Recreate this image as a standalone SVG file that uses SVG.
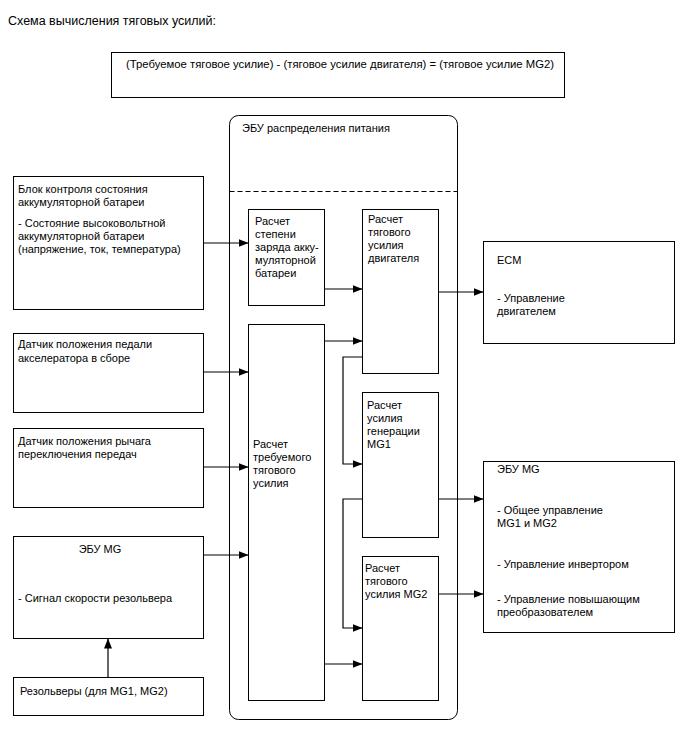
<svg xmlns="http://www.w3.org/2000/svg" width="688" height="755" viewBox="0 0 688 755">
<defs>
<marker id="ah" viewBox="0 0 10 8" refX="10" refY="4" markerWidth="10" markerHeight="8" markerUnits="userSpaceOnUse" orient="auto">
<path d="M0,0 L10,4 L0,8 Z" fill="#000"/>
</marker>
<style>
text{font-family:"Liberation Sans",Arial,sans-serif;font-size:11px;fill:#000}
.box{fill:#fff;stroke:#000;stroke-width:1}
.c{fill:none;stroke:#000;stroke-width:1.2}
.a{fill:none;stroke:#000;stroke-width:1.2;marker-end:url(#ah)}
</style>
</defs>
<rect width="688" height="755" fill="#fff"/>
<text x="8" y="25" style="font-size:12.5px">Схема вычисления тяговых усилий:</text>
<g id="formula">
<rect class="box" x="111.500" y="52.500" width="453" height="45"/>
<text x="126" y="68" style="font-size:11.3px">(Требуемое тяговое усилие) - (тяговое усилие двигателя) = (тяговое усилие MG2)</text>
</g>
<g id="ecu-power">
<rect class="box" x="229.500" y="115.500" width="228" height="604" rx="9"/>
<text x="242" y="132">ЭБУ распределения питания</text>
<line x1="229.500" y1="191.500" x2="457.500" y2="191.500" stroke="#000" stroke-dasharray="5,3"/>
</g>
<g id="battery-monitor">
<rect class="box" x="13.500" y="176.500" width="190" height="133"/>
<text x="18" y="193">Блок контроля состояния</text>
<text x="18" y="206">аккумуляторной батареи</text>
<text x="18" y="227">- Состояние высоковольтной</text>
<text x="18" y="240">аккумуляторной батареи</text>
<text x="18" y="253">(напряжение, ток, температура)</text>
</g>
<g id="pedal">
<rect class="box" x="13.500" y="333.500" width="190" height="79"/>
<text x="18" y="348">Датчик положения педали</text>
<text x="18" y="362">акселератора в сборе</text>
</g>
<g id="shift">
<rect class="box" x="13.500" y="428.500" width="190" height="79"/>
<text x="18" y="445">Датчик положения рычага</text>
<text x="18" y="458">переключения передач</text>
</g>
<g id="mg-ecu-left">
<rect class="box" x="13.500" y="536.500" width="190" height="102"/>
<text x="100" y="553" text-anchor="middle">ЭБУ MG</text>
<text x="18" y="602">- Сигнал скорости резольвера</text>
</g>
<g id="resolvers">
<rect class="box" x="13.500" y="677.500" width="190" height="38"/>
<text x="20" y="695">Резольверы (для MG1, MG2)</text>
</g>
<g id="soc">
<rect class="box" x="248.500" y="209.500" width="76" height="96"/>
<text x="255" y="225">Расчет</text>
<text x="255" y="238">степени</text>
<text x="255" y="251">заряда акку-</text>
<text x="255" y="264">муляторной</text>
<text x="255" y="277">батареи</text>
</g>
<g id="engine-force">
<rect class="box" x="362.500" y="209.500" width="76" height="164"/>
<text x="368" y="223">Расчет</text>
<text x="368" y="236">тягового</text>
<text x="368" y="249">усилия</text>
<text x="368" y="262">двигателя</text>
</g>
<g id="required-force">
<rect class="box" x="248.500" y="324.500" width="76" height="376"/>
<text x="253" y="448">Расчет</text>
<text x="253" y="461">требуемого</text>
<text x="253" y="474">тягового</text>
<text x="253" y="487">усилия</text>
</g>
<g id="mg1-force">
<rect class="box" x="362.500" y="392.500" width="76" height="145"/>
<text x="367" y="409">Расчет</text>
<text x="367" y="422">усилия</text>
<text x="367" y="435">генерации</text>
<text x="367" y="448">MG1</text>
</g>
<g id="mg2-force">
<rect class="box" x="362.500" y="556.500" width="76" height="144"/>
<text x="365" y="572">Расчет</text>
<text x="365" y="585">тягового</text>
<text x="365" y="598">усилия MG2</text>
</g>
<g id="ecm">
<rect class="box" x="483.500" y="241.500" width="191" height="102"/>
<text x="497" y="264">ECM</text>
<text x="497" y="302">- Управление</text>
<text x="497" y="315">двигателем</text>
</g>
<g id="mg-ecu-right">
<rect class="box" x="483.500" y="461.500" width="191" height="171"/>
<text x="497" y="473">ЭБУ MG</text>
<text x="497" y="514">- Общее управление</text>
<text x="497" y="527">MG1 и MG2</text>
<text x="497" y="568">- Управление инвертором</text>
<text x="497" y="603">- Управление повышающим</text>
<text x="497" y="616">преобразователем</text>
</g>
<g id="connectors">
<path class="a" d="M203.500,243 H248.500"/>
<path class="a" d="M203.500,372 H248.500"/>
<path class="a" d="M203.500,467 H248.500"/>
<path class="a" d="M203.500,555 H248.500"/>
<path class="a" d="M108,677.500 V638.500"/>
<path class="a" d="M324.500,289 H362.500"/>
<path class="a" d="M324.500,341 H362.500"/>
<path class="a" d="M324.500,664 H362.500"/>
<path class="a" d="M362.500,357 H343 V464 H362.500"/>
<path class="a" d="M362.500,499 H343 V628 H362.500"/>
<path class="a" d="M438.500,292 H483.500"/>
<path class="a" d="M438.500,499 H483.500"/>
<path class="a" d="M438.500,594 H483.500"/>
</g>
</svg>
